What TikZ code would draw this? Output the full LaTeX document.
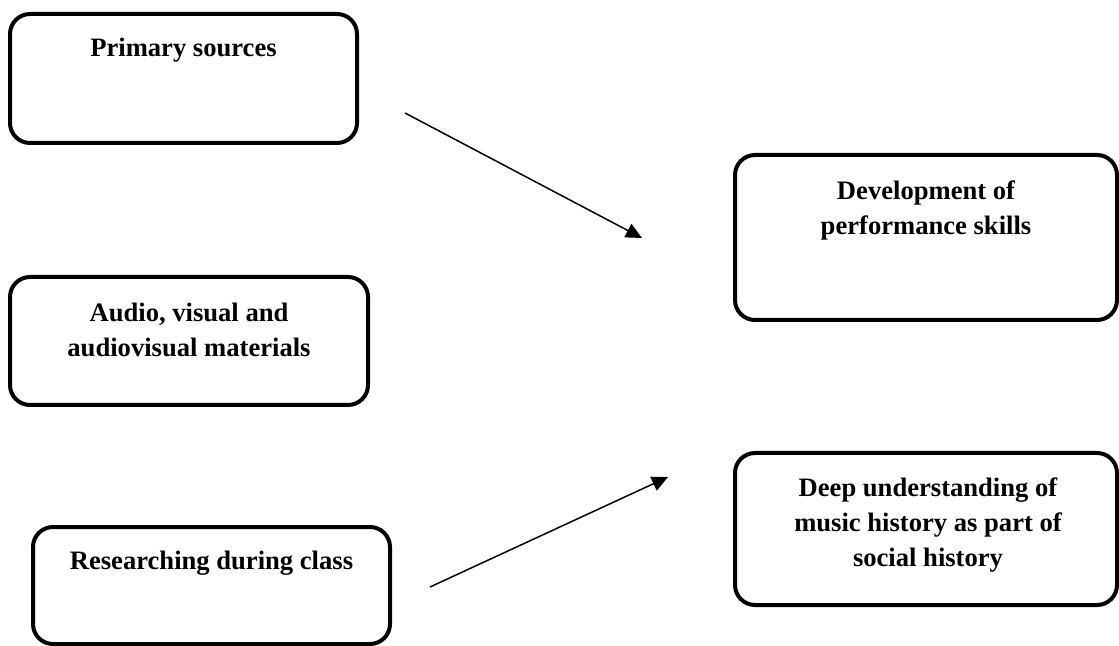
\documentclass[tikz,border=0pt]{standalone}
\usepackage{fontspec}
\setmainfont{Liberation Serif}
\usepackage{tikz}
\usetikzlibrary{arrows.meta}

\begin{document}
\begin{tikzpicture}[x=0.5pt,y=-0.5pt,
                    box/.style={draw,line width=2pt,rounded corners=10pt,inner sep=0pt},
                    lbl/.style={font=\fontsize{13.3}{17.5}\selectfont\bfseries,align=center,inner sep=0pt},
                    arr/.style={-{Triangle[length=8pt,width=7.5pt]},line width=0.75pt}]
                      \useasboundingbox(0,0)rectangle(1119,646);
                      % boxes on the left
                      \node[box,minimum width=173.5pt,minimum height=64.5pt](prim)at(183.5,78.5){};
                      \node[box,minimum width=179pt,minimum height=64pt](audio)at(189,341){};
                      \node[box,minimum width=178.5pt,minimum height=58.5pt](research)at(211.5,585.5){};
                      % boxes on the right
                      \node[box,minimum width=191pt,minimum height=82.5pt](perf)at(926,237.5){};
                      \node[box,minimum width=191pt,minimum height=76pt](hist)at(926,529){};
                      % texts
                      \node[lbl](primtext)at(183.5,50){Primary sources};
                      \node[lbl](audiotext)at(189,329.5){Audio, visual and\\audiovisual materials};
                      \node[lbl](researchtext)at(211.5,563){Researching during class};
                      \node[lbl](perftext)at(926,210.5){Development of\\performance skills};
                      \node[lbl](histtext)at(928,525){Deep understanding of\\music history as part of\\social history};
                      % arrows
                      \coordinate(s1)at(405,113);
                      \coordinate(t1)at(642,238);
                      \coordinate(s2)at(430,587);
                      \coordinate(t2)at(668,477);
                      \draw[arr](s1)--(t1);
                      \draw[arr](s2)--(t2);
                  \end{tikzpicture}
\end{document}
